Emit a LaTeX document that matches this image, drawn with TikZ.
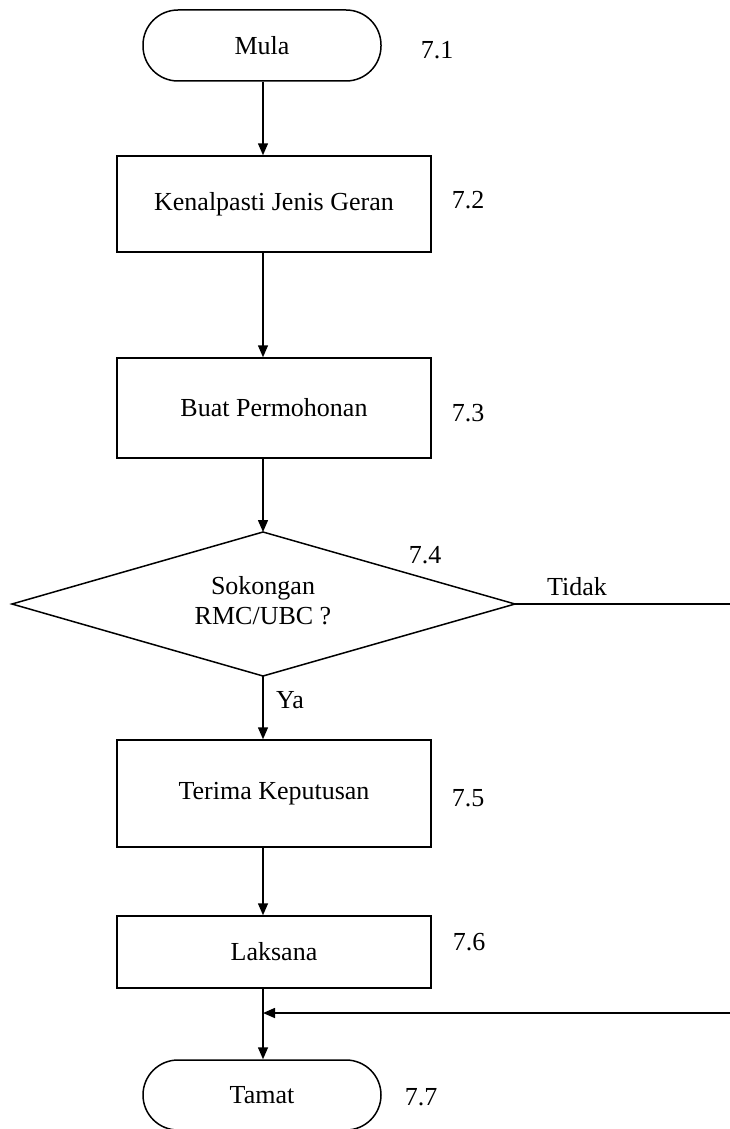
\documentclass[tikz,border=0pt]{standalone}
\usepackage{fontspec}
\setmainfont{Liberation Serif}
\usetikzlibrary{arrows.meta,calc}
\begin{document}
\begin{tikzpicture}[x=1pt,y=-1pt,
  every node/.style={font=\fontsize{26}{30}\selectfont},
  line/.style={line width=1.5pt},
  arr/.style={line width=1.5pt,-{Triangle[length=12pt,width=10pt]}},
  term/.style={draw,line width=1.5pt,rounded corners=35pt,minimum width=238pt,minimum height=71pt,inner sep=0pt},
  proc/.style={draw,line width=1.5pt,minimum width=314pt,inner sep=0pt},
  dectext/.style={align=center,inner sep=0pt},
  lbl/.style={inner sep=0pt}]
\useasboundingbox (0,0) rectangle (730,1129);
\node[term] (mula) at (262,45.5) {Mula};
\node[proc,minimum height=96pt] (k) at (274,204) {Kenalpasti Jenis Geran};
\node[proc,minimum height=100pt] (b) at (274,408) {Buat Permohonan};
% decision diamond
\coordinate (dt) at (263,532);
\coordinate (db) at (263,676);
\coordinate (dl) at (12,604);
\coordinate (dr) at (515,604);
\draw[line,line join=miter] (dt) -- (dr) -- (db) -- (dl) -- cycle;
\node[dectext] (d) at (263,601) {Sokongan\\RMC/UBC ?};
\node[proc,minimum height=107pt] (t) at (274,793.5) {Terima Keputusan};
\node[proc,minimum height=72pt] (l) at (274,952) {Laksana};
\node[term,minimum height=70pt] (tm) at (262,1095) {Tamat};
\node[lbl] (n1) at (437,50) {7.1};
\node[lbl] (n2) at (468,200) {7.2};
\node[lbl] (n3) at (468,413) {7.3};
\node[lbl] (n4) at (425,555) {7.4};
\node[lbl] (tidak) at (577,587) {Tidak};
\node[lbl] (ya) at (290,700) {Ya};
\node[lbl] (n5) at (468,798) {7.5};
\node[lbl] (n6) at (469,942) {7.6};
\node[lbl] (n7) at (421,1097) {7.7};
\coordinate (r1) at (730,604);
\coordinate (r2) at (730,1013);
\coordinate (m) at (263,1013);
\draw[arr] (mula.south -| dt) -- (dt |- k.north);
\draw[arr] (k.south -| dt) -- (dt |- b.north);
\draw[arr] (b.south -| dt) -- (dt);
\draw[arr] (db) -- (dt |- t.north);
\draw[arr] (t.south -| dt) -- (dt |- l.north);
\draw[line] (l.south -| dt) -- (m);
\draw[arr] (m) -- (dt |- tm.north);
\draw[line] (dr) -- (r1);
\draw[arr] (r2) -- (m);
\end{tikzpicture}
\end{document}
